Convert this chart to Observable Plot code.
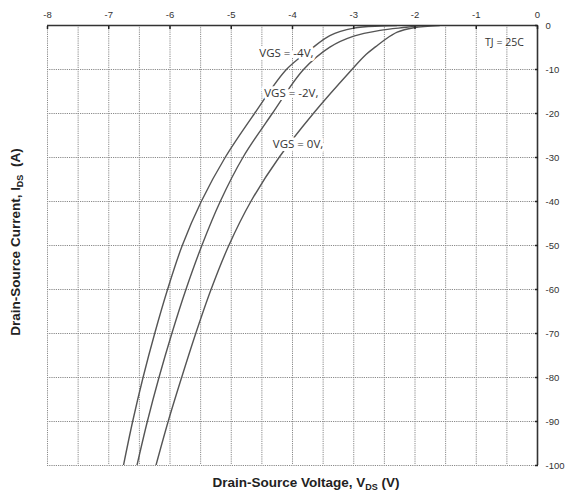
<!DOCTYPE html>
<html>
<head>
<meta charset="utf-8">
<script src="https://cdn.jsdelivr.net/npm/d3@7"></script>
<script src="https://cdn.jsdelivr.net/npm/@observablehq/plot@0.6"></script>
<style>
  body { margin: 0; background: #fff; }
  #chart svg { display: block; }
</style>
</head>
<body>
<div id="chart"></div>
<script>
// Axis ticks and grid positions
const xTicks = [-8, -7, -6, -5, -4, -3, -2, -1, 0];
const xGrid = [-8, -7.5, -7, -6.5, -6, -5.5, -5, -4.5, -4, -3.5, -3, -2.5, -2, -1.5, -1, -0.5];
const yTicks = [0, -10, -20, -30, -40, -50, -60, -70, -80, -90, -100];

// Body-diode reverse characteristics, VDS (V) vs IDS (A)
const vgsM4V = [-2.3, -2.57, -3.0, -3.39, -3.71, -4.10, -4.62, -5.10, -5.49, -5.80, -6.04, -6.25, -6.44, -6.61, -6.76];
const vgsM4I = [0, -0.1, -0.6, -2.3, -5.5, -10, -20, -30, -40, -50, -60, -70, -80, -90, -100];

const vgsM2V = [-1.9, -2.14, -2.57, -3.0, -3.39, -3.82, -4.33, -4.81, -5.18, -5.48, -5.74, -5.97, -6.18, -6.37, -6.54];
const vgsM2I = [0, -0.4, -1.1, -2.4, -4.9, -10, -20, -30, -40, -50, -60, -70, -80, -90, -100];

const vgs0V = [-1.6, -2.02, -2.29, -2.51, -2.64, -2.80, -3.03, -3.66, -4.22, -4.68, -5.04, -5.33, -5.58, -5.81, -6.03, -6.23];
const vgs0I = [0, -0.5, -1.5, -3.4, -4.8, -6.6, -10, -20, -30, -40, -50, -60, -70, -80, -90, -100];

// Curve annotations
const labelText = ["VGS = -4V,", "VGS = -2V,", "VGS = 0V,"];
const labelX = [-4.10, -4.02, -3.91];
const labelY = [-6.4, -15.5, -26.9];

const series = [
  {name: "VGS = -4V", v: vgsM4V, i: vgsM4I},
  {name: "VGS = -2V", v: vgsM2V, i: vgsM2I},
  {name: "VGS = 0V", v: vgs0V, i: vgs0I}
];
const rows = series.flatMap(s => s.v.map((v, k) => ({series: s.name, vds: v, ids: s.i[k]})));
const labels = labelText.map((t, k) => ({text: t, x: labelX[k], y: labelY[k]}));

const W = 565, H = 495;
const mTop = 25, mRight = 28, mBottom = 30, mLeft = 47;
const labelFont = "'Open Sans', 'Noto Sans', sans-serif";

const plot = Plot.plot({
  width: W,
  height: H,
  marginTop: mTop,
  marginRight: mRight,
  marginBottom: mBottom,
  marginLeft: mLeft,
  style: {fontFamily: "'Liberation Sans', Arial, sans-serif", fontSize: "9.5px", color: "#333", background: "#fff"},
  x: {domain: [-8, 0]},
  y: {domain: [-100, 0]},
  marks: [
    Plot.gridX(xGrid, {stroke: "#8a8a8a", strokeOpacity: 1, strokeWidth: 1, strokeDasharray: "1.2,1"}),
    Plot.gridY(yTicks.slice(1), {stroke: "#8a8a8a", strokeOpacity: 1, strokeWidth: 1, strokeDasharray: "1.2,1"}),
    Plot.line(rows, {x: "vds", y: "ids", z: "series", stroke: "#555", strokeWidth: 1.4, curve: "catmull-rom", clip: true}),
    Plot.text(labels, {x: "x", y: "y", text: "text", fill: "#333", stroke: "white", strokeWidth: 6, fontSize: 11.5, fontFamily: labelFont}),
    Plot.text(["TJ = 25C"], {x: -0.54, y: -3.8, text: d => d, fill: "#333", fontSize: 10.5, fontFamily: labelFont}),
    Plot.ruleY([0], {stroke: "#333", strokeWidth: 1.6}),
    Plot.ruleX([0], {stroke: "#333", strokeWidth: 1.6}),
    Plot.axisX(xTicks, {anchor: "top", tickSize: -3, tickPadding: 11, stroke: "#222", strokeWidth: 1.5, label: null, tickFormat: d => String(d), fill: "#333"}),
    Plot.axisY(yTicks, {anchor: "right", tickSize: -3, tickPadding: 11, stroke: "#222", strokeWidth: 1.5, label: null, tickFormat: d => String(d), fill: "#333"})
  ]
});

// Axis titles with subscripts
const svg = d3.select(plot);
const xTitle = svg.append("text")
  .attr("x", 306)
  .attr("y", H - 8)
  .attr("text-anchor", "middle")
  .attr("font-family", "'Liberation Sans', Arial, sans-serif")
  .attr("font-weight", "bold")
  .attr("font-size", 13.5)
  .attr("fill", "#222");
xTitle.append("tspan").text("Drain-Source Voltage, V");
xTitle.append("tspan").attr("font-size", 9).attr("dy", 3).text("DS");
xTitle.append("tspan").attr("dy", -3).text(" (V)");

const yTitle = svg.append("text")
  .attr("transform", `translate(20,${(mTop + H - mBottom) / 2 - 3}) rotate(-90)`)
  .attr("text-anchor", "middle")
  .attr("font-family", "'Liberation Sans', Arial, sans-serif")
  .attr("font-weight", "bold")
  .attr("font-size", 13.5)
  .attr("fill", "#222");
yTitle.append("tspan").text("Drain-Source Current, I");
yTitle.append("tspan").attr("font-size", 9).attr("dy", 3).text("DS");
yTitle.append("tspan").attr("dy", -3).text("  (A)");

document.getElementById("chart").appendChild(plot);
</script>
</body>
</html>
